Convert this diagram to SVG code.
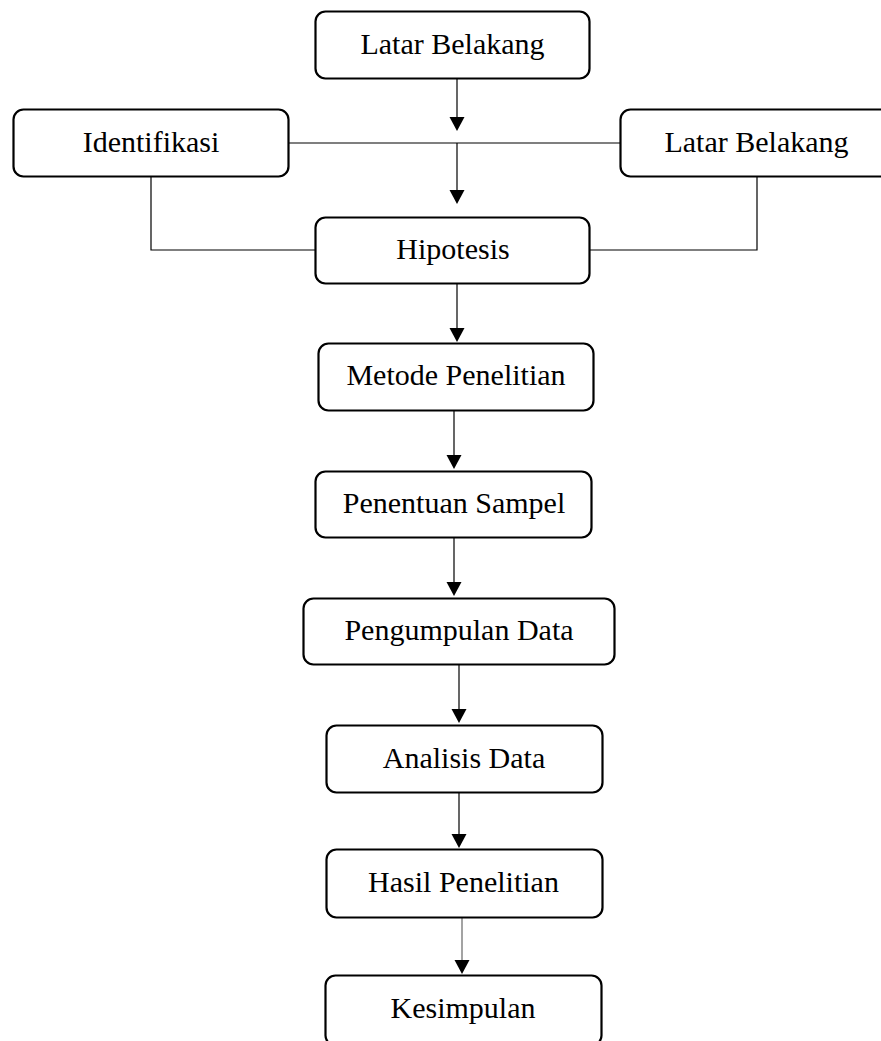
<svg xmlns="http://www.w3.org/2000/svg" width="881" height="1041" viewBox="0 0 881 1041">
<style>
.box{fill:#fff;stroke:#000;stroke-width:2.2}
.lbl{font-family:"Liberation Serif","Times New Roman",serif;font-size:30px;fill:#000;text-anchor:middle}
.ln{fill:none;stroke:#000;stroke-width:1.2}
.ah{fill:#000}
</style>
<rect width="881" height="1041" fill="#fff"/>
<g id="connectors">
<line class="ln" x1="457" y1="79" x2="457" y2="118"/>
<polygon class="ah" points="449.5,117 464.5,117 457,131"/>
<line class="ln" x1="289" y1="143" x2="620" y2="143"/>
<line class="ln" x1="457" y1="143" x2="457" y2="191"/>
<polygon class="ah" points="449.5,190 464.5,190 457,204"/>
<polyline class="ln" points="151,177 151,250 315,250"/>
<polyline class="ln" points="757,177 757,250 590,250"/>
<line class="ln" x1="457" y1="284" x2="457" y2="329"/>
<polygon class="ah" points="449.5,328 464.5,328 457,342"/>
<line class="ln" x1="454" y1="411" x2="454" y2="456"/>
<polygon class="ah" points="446.5,455 461.5,455 454,469"/>
<line class="ln" x1="454" y1="538" x2="454" y2="583"/>
<polygon class="ah" points="446.5,582 461.5,582 454,596"/>
<line class="ln" x1="459" y1="665" x2="459" y2="710"/>
<polygon class="ah" points="451.5,709 466.5,709 459,723"/>
<line class="ln" x1="459" y1="793" x2="459" y2="835"/>
<polygon class="ah" points="451.5,834 466.5,834 459,848"/>
<line class="ln" x1="462" y1="918" x2="462" y2="961" style="stroke:#666"/>
<polygon class="ah" points="454.5,960 469.5,960 462,974"/>
</g>
<g id="n-latar-top"><rect class="box" x="315.5" y="11.5" width="274" height="67" rx="10"/><text class="lbl" x="452.5" y="54">Latar Belakang</text></g>
<g id="n-identifikasi"><rect class="box" x="13.5" y="109.5" width="275" height="67" rx="10"/><text class="lbl" x="151" y="152">Identifikasi</text></g>
<g id="n-latar-right"><rect class="box" x="620.5" y="109.5" width="275" height="67" rx="10"/><text class="lbl" x="756.5" y="152">Latar Belakang</text></g>
<g id="n-hipotesis"><rect class="box" x="315.5" y="217.5" width="274" height="66" rx="10"/><text class="lbl" x="453" y="259">Hipotesis</text></g>
<g id="n-metode"><rect class="box" x="318.5" y="343.5" width="275" height="67" rx="10"/><text class="lbl" x="456" y="385">Metode Penelitian</text></g>
<g id="n-penentuan"><rect class="box" x="315.5" y="471.5" width="276" height="66" rx="10"/><text class="lbl" x="454" y="513">Penentuan Sampel</text></g>
<g id="n-pengumpulan"><rect class="box" x="303.5" y="598.5" width="311" height="66" rx="10"/><text class="lbl" x="459" y="640">Pengumpulan Data</text></g>
<g id="n-analisis"><rect class="box" x="326.5" y="725.5" width="276" height="67" rx="10"/><text class="lbl" x="464" y="768">Analisis Data</text></g>
<g id="n-hasil"><rect class="box" x="326.5" y="849.5" width="276" height="68" rx="10"/><text class="lbl" x="463.5" y="892">Hasil Penelitian</text></g>
<g id="n-kesimpulan"><rect class="box" x="325.5" y="975.5" width="276" height="70" rx="10"/><text class="lbl" x="463" y="1018">Kesimpulan</text></g>
</svg>
